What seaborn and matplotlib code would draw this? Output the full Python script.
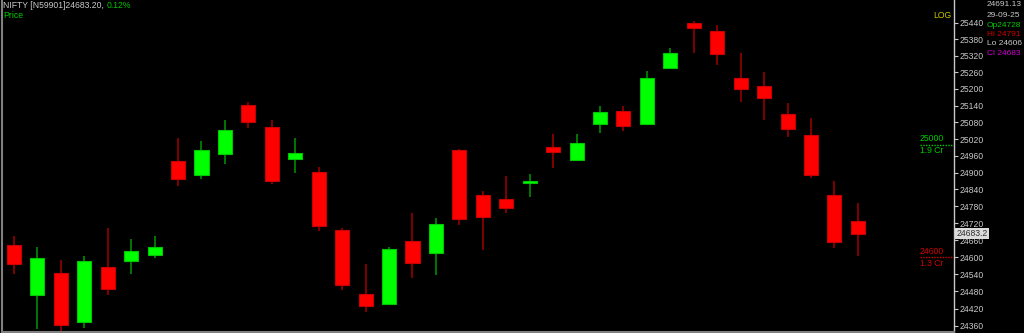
import matplotlib
matplotlib.use("Agg")
import matplotlib.pyplot as plt
import matplotlib.transforms as mtransforms
from matplotlib.ticker import FixedLocator, NullLocator, FixedFormatter
import seaborn as sns
import pandas as pd
import numpy as np

# ---- data ----
opens = [24644, 24466, 24546, 24374, 24566, 24588, 24609, 24941, 24890, 24966,
         25142, 25064, 24948, 24902, 24697, 24471, 24435, 24656, 24616, 24982,
         24819, 24806, 24863, 24991, 24946, 25075, 25121, 25073, 25276, 25440,
         25411, 25238, 25210, 25111, 25035, 24820, 24728]
highs = [24675, 24637, 24589, 24604, 24704, 24665, 24676, 25024, 25013, 25089,
         25153, 25087, 25023, 24921, 24704, 24575, 24637, 24757, 24740, 24985,
         24834, 24889, 24896, 25039, 25039, 25140, 25140, 25264, 25347, 25446,
         25433, 25331, 25263, 25149, 25094, 24870, 24791]
lows = [24542, 24347, 24343, 24352, 24468, 24540, 24598, 24853, 24876, 24932,
        25058, 24860, 24898, 24693, 24484, 24409, 24432, 24526, 24537, 24713,
        24625, 24755, 24814, 24916, 24941, 25040, 25050, 25071, 25275, 25330,
        25288, 25153, 25087, 25027, 24880, 24633, 24606]
closes = [24576, 24598, 24363, 24587, 24487, 24623, 24635, 24876, 24982, 25052,
          25082, 24871, 24970, 24711, 24501, 24428, 24628, 24580, 24716, 24734,
          24741, 24774, 24870, 24972, 25006, 25116, 25068, 25241, 25331, 25422,
          25325, 25201, 25167, 25056, 24890, 24655, 24683]

tick_values = [24360, 24420, 24480, 24540, 24600, 24660, 24720, 24780, 24840,
               24900, 24960, 25020, 25080, 25140, 25200, 25260, 25320, 25380, 25440]
tick_labels = [str(v) for v in tick_values]

header_name = "NIFTY [N59901]24683.20,"
header_change = "0.12%"
header_sub = "Price"
info_lines = ["24691.13", "29-09-25", "Op24728", "Hi 24791", "Lo 24606", "Cl 24683"]
level_hi_value = 25000
level_hi_vol = "1.9 Cr"
level_lo_value = 24600
level_lo_vol = "1.3 Cr"
last_price_label = "24683.2"
last_price = 24683.2

df = pd.DataFrame({"open": opens, "high": highs, "low": lows, "close": closes})
df["idx"] = np.arange(len(df))
df["up"] = df["close"] >= df["open"]

# ---- style ----
sns.set_theme(style="dark", rc={
    "axes.facecolor": "black",
    "figure.facecolor": "black",
    "axes.grid": False,
})
plt.rcParams["font.family"] = ["Liberation Sans", "DejaVu Sans"]

W, H = 1024, 333
fig = plt.figure(figsize=(W / 100, H / 100), dpi=100)
ax = fig.add_axes([2 / W, 1 / H, 952 / W, 332 / H])
ax.set_facecolor("black")

GREEN = "#00ff00"
RED = "#ff0000"
body_colors = [GREEN if u else RED for u in df["up"]]
edge_colors = ["#00c800" if u else "#c80000" for u in df["up"]]
wick_colors = ["#008000" if u else "#8a0000" for u in df["up"]]

bottoms = np.minimum(df["open"], df["close"])
heights = np.abs(df["close"] - df["open"])

ax.vlines(df["idx"], df["low"], df["high"], colors=wick_colors, linewidth=1.3, zorder=2)
ax.bar(df["idx"], heights, bottom=bottoms, width=0.6, color=body_colors,
       edgecolor=edge_colors, linewidth=0.8, zorder=3)

ax.set_yscale("log")
ax.set_ylim(24338, 25523)
ax.set_xlim(-0.51, 40.1)
ax.yaxis.set_major_locator(FixedLocator(tick_values))
ax.yaxis.set_major_formatter(FixedFormatter(tick_labels))
ax.yaxis.set_minor_locator(NullLocator())
ax.yaxis.set_minor_formatter(FixedFormatter([]))
ax.yaxis.tick_right()
ax.tick_params(axis="y", colors="#c8c8c8", labelsize=6.2, length=3, width=0.8,
               pad=1, direction="out")
ax.set_xticks([])
ax.set_xlabel("")
ax.set_ylabel("")

ax.spines["top"].set_visible(False)
ax.spines["right"].set_color("#c8c8c8")
ax.spines["right"].set_linewidth(1.0)
ax.spines["left"].set_color("#808080")
ax.spines["left"].set_linewidth(1.5)
ax.spines["bottom"].set_color("#808080")
ax.spines["bottom"].set_linewidth(1.5)

trans = mtransforms.blended_transform_factory(ax.transAxes, ax.transData)
x_lvl = (920 - 2) / 952

LGREEN = "#00c800"
LRED = "#d00000"
ax.axhline(level_hi_value, xmin=x_lvl, xmax=1.0, color=LGREEN, ls=(0, (1, 1)), lw=1, zorder=4)
ax.axhline(level_lo_value, xmin=x_lvl, xmax=1.0, color=LRED, ls=(0, (1, 1)), lw=1, zorder=4)
ax.annotate(str(level_hi_value), xy=(x_lvl, level_hi_value), xycoords=trans,
            xytext=(0, 4.2), textcoords="offset points", ha="left", va="center",
            color=LGREEN, fontsize=6.2)
ax.annotate(level_hi_vol, xy=(x_lvl, level_hi_value), xycoords=trans,
            xytext=(0, -4.4), textcoords="offset points", ha="left", va="center",
            color=LGREEN, fontsize=6.2)
ax.annotate(str(level_lo_value), xy=(x_lvl, level_lo_value), xycoords=trans,
            xytext=(0, 4.4), textcoords="offset points", ha="left", va="center",
            color=LRED, fontsize=6.2)
ax.annotate(level_lo_vol, xy=(x_lvl, level_lo_value), xycoords=trans,
            xytext=(0, -4.6), textcoords="offset points", ha="left", va="center",
            color=LRED, fontsize=6.2)

ax.annotate(last_price_label, xy=(1.0025, last_price), xycoords=trans,
            ha="left", va="center", color="#303030", fontsize=6.2,
            bbox=dict(boxstyle="square,pad=0.15", fc="#dcdcdc", ec="none"),
            annotation_clip=False, zorder=10)

def fy(py):
    return 1 - py / H

fig.text(3 / W, fy(5), header_name, color="#c8c8c8", fontsize=6.2, ha="left", va="center")
fig.text(107 / W, fy(5), header_change, color=LGREEN, fontsize=6.2, ha="left", va="center")
fig.text(3 / W, fy(15), header_sub, color=LGREEN, fontsize=6.2, ha="left", va="center")
fig.text(951 / W, fy(15), "LOG", color="#c8c800", fontsize=6.2, ha="right", va="center",
         zorder=20)

info_colors = ["#c8c8c8", "#c8c8c8", LGREEN, LRED, "#c8c8c8", "#d000d0"]
info_y = [5, 15.7, 25.3, 35, 43.7, 53.3]
for txt, col, yy in zip(info_lines, info_colors, info_y):
    fig.text(987 / W, fy(yy), txt, color=col, fontsize=6.0, ha="left", va="center")

fig.savefig("out.png", dpi=100, facecolor="black")
